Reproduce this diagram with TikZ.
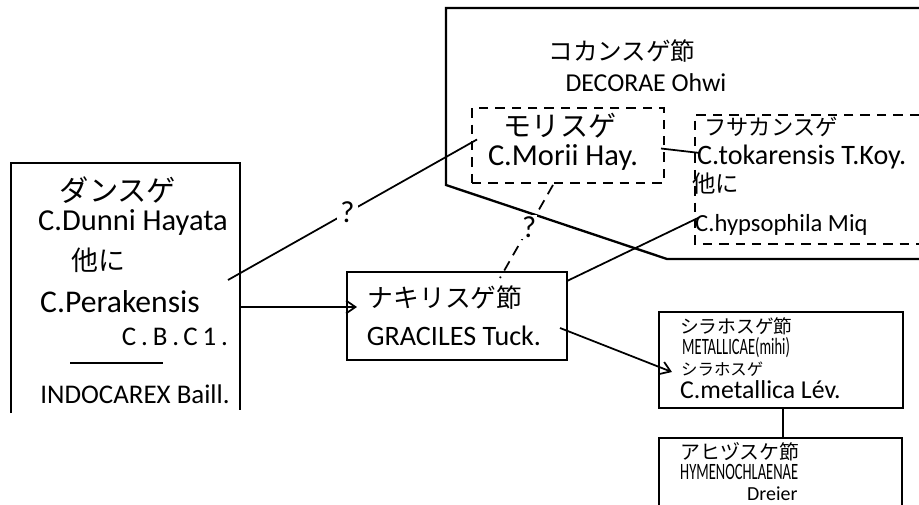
\documentclass[tikz,border=0pt]{standalone}
\usepackage{fontspec}
\setmainfont{Carlito}
\newfontfamily\jpfont{Noto Sans CJK JP}
\newfontfamily\narrowfont[FakeStretch=0.62]{Carlito}
\usetikzlibrary{arrows.meta,calc}
\newcommand{\txtsize}[1]{\fontsize{#1}{#1}\selectfont}
\tikzset{
  sectline/.style={draw=black,line width=2pt},
  sectbox/.style={draw=black,line width=2pt,inner sep=0pt,outer sep=0pt},
  dashbox/.style={draw=black,line width=1.5pt,dash pattern=on 8pt off 6pt},
  linkline/.style={draw=black,line width=1.5pt},
  linkarrow/.style={linkline,-{Straight Barb[length=8pt,width=11pt]}},
  qmark/.style={fill=white,inner sep=3pt,font=\txtsize{26}},
  jplabel/.style={inner sep=0pt,font=\jpfont},
  latlabel/.style={inner sep=0pt}
}

\begin{document}
\begin{tikzpicture}[x=0.03cm,y=-0.03cm]
  \useasboundingbox (0,0) rectangle (919,505);
  % outlines that run off the page
  \draw[sectline] (11,413) -- (11,163) -- (240,163) -- (240,410);
  \draw[sectline] (919,8) -- (446,8) -- (446,185) -- (667,259) -- (919,259);
  \draw[dashbox] (919,115) -- (695,115) -- (695,244) -- (919,244);
  \draw[sectline] (659,505) -- (659,438) -- (902,438) -- (902,505);
  \draw[line width=1.5pt] (70,363) -- (163,363);

  \node[jplabel,font=\jpfont\txtsize{25}] (dansuge) at (118,190) {ダンスゲ};
  \node[latlabel,font=\txtsize{26}] (dunni) at (133,222) {C.Dunni Hayata};
  \node[jplabel,font=\jpfont\txtsize{23}] (hokani) at (98,260) {他に};
  \node[latlabel,font=\txtsize{27}] (pera) at (120,302) {C.Perakensis};
  \node[latlabel,font=\txtsize{23}\addfontfeature{LetterSpace=18}] (cbc) at (175,337) {C.B.C1.};
  \node[latlabel,font=\txtsize{23}] (indo) at (135,394) {INDOCAREX Baill.};

  \node[jplabel,font=\jpfont\txtsize{21}] (kokan) at (622,51) {コカンスゲ節};
  \node[latlabel,font=\txtsize{22}] (decorae) at (646,83) {DECORAE Ohwi};

  \node[sectbox,dashbox,minimum width=5.76cm,minimum height=2.25cm] (mori) at (568,145.5) {};
  \node[jplabel,font=\jpfont\txtsize{24}] (morisuge) at (560,126) {モリスゲ};
  \node[latlabel,font=\txtsize{26}] (morii) at (563,157) {C.Morii Hay.};

  \node[jplabel,font=\jpfont\txtsize{19}] (fusa) at (771,127) {フサカンスゲ};
  \node[latlabel,font=\txtsize{24},anchor=west] (toka) at (697,157) {C.tokarensis T.Koy.};
  \node[jplabel,font=\jpfont\txtsize{20},anchor=west] (hokani2) at (692,184) {他に};
  \node[latlabel,font=\txtsize{21},anchor=west] (hyps) at (695,225) {C.hypsophila Miq};

  \node[sectbox,minimum width=6.6cm,minimum height=2.64cm] (nakiri) at (457,316) {};
  \node[jplabel,font=\jpfont\txtsize{22}] (nakirisuge) at (445,298) {ナキリスゲ節};
  \node[latlabel,font=\txtsize{24}] (gracil) at (454,336) {GRACILES Tuck.};

  \node[sectbox,minimum width=7.32cm,minimum height=2.88cm] (metal) at (781,360) {};
  \node[jplabel,font=\jpfont\txtsize{16},anchor=west] (shirasect) at (680,326) {シラホスゲ節};
  \node[latlabel,font=\narrowfont\txtsize{20},anchor=west] (metallicae) at (682,348) {METALLICAE(mihi)};
  \node[jplabel,font=\jpfont\txtsize{14},anchor=west] (shira) at (681,369) {シラホスゲ};
  \node[latlabel,font=\txtsize{22},anchor=west] (metallica) at (680,390) {C.metallica Lév.};

  \node[jplabel,font=\jpfont\txtsize{17},anchor=west] (ahizu) at (680,452) {アヒヅスケ節};
  \node[latlabel,font=\narrowfont\txtsize{20},anchor=west] (hymeno) at (680,472) {HYMENOCHLAENAE};
  \node[latlabel,font=\txtsize{17},anchor=west] (dreier) at (747,494) {Dreier};

  \coordinate (dunniout) at (228,280);
  \coordinate (peraout) at (240,307);
  \coordinate (fusaleft) at (698,218);
  \coordinate (fusatick) at (700,153);
  \coordinate (hymtop) at (783,438);

  \draw[linkline] (dunniout) -- node[qmark,pos=0.48]{?} ($(mori.west)+(5,-6)$);
  \draw[linkarrow] (peraout) -- ($(nakiri.west)+(10,-9)$);
  \draw[linkline,dash pattern=on 9pt off 6pt] ($(mori.south)+(-15,2)$) -- node[qmark,pos=0.45,inner sep=1pt]{?} ($(nakiri.north)+(43,6)$);
  \draw[linkline] ($(nakiri.north east)+(0,9)$) -- (fusaleft);
  \draw[linkline] ($(mori.east)+(-3,3)$) -- (fusatick);
  \draw[linkarrow] ($(nakiri.east)+(-7,12)$) -- ($(metal.west)+(13,12)$);
  \draw[linkline] ($(metal.south)+(2,0)$) -- (hymtop);
\end{tikzpicture}
\end{document}
